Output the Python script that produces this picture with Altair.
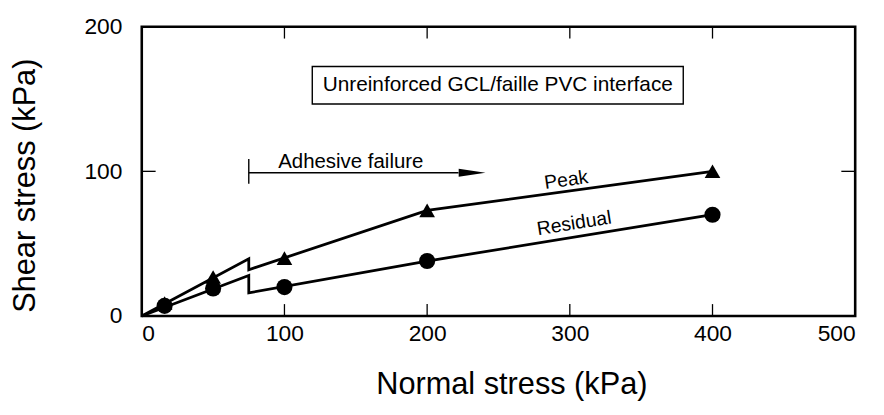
import altair as alt
import pandas as pd

# ---- data ----
normal_stress = [16, 50, 100, 200, 400]
peak_shear = [9, 27, 40, 73, 100]
residual_shear = [7, 19, 20, 38, 70]

# fitted envelopes (with the jump at the onset of adhesive failure)
peak_line_x = [0, 75, 75, 200, 400]
peak_line_y = [0, 39.5, 32, 73, 100]
resid_line_x = [0, 75, 75, 200, 400]
resid_line_y = [0, 28, 16, 38, 70]

x_ticks = [0, 100, 200, 300, 400, 500]
y_ticks = [0, 100, 200]
x_inner_ticks = [100, 200, 300, 400]
y_inner_ticks = [100]

box_text = "Unreinforced GCL/faille PVC interface"
adhesive_text = "Adhesive failure"

W, H = 720, 292
FONT = "Liberation Sans"

xs = alt.Scale(domain=[0, 500], nice=False, zero=False)
ys = alt.Scale(domain=[0, 200], nice=False, zero=False)

x_axis = alt.Axis(values=x_ticks, format="d", ticks=False, tickSize=0, domain=False,
                  grid=False, labelFontSize=23, labelPadding=7, labelColor="black",
                  labelFont=FONT, title="Normal stress (kPa)", titleFont=FONT,
                  titleFontSize=31, titleFontWeight="normal", titleColor="black",
                  titleX=373, titleY=69, titleBaseline="middle", titleAnchor="middle")
y_axis = alt.Axis(values=y_ticks, format="d", ticks=False, tickSize=0, domain=False,
                  grid=False, labelFontSize=23, labelPadding=20, labelColor="black",
                  labelFont=FONT, title="Shear stress (kPa)", titleFont=FONT,
                  titleFontSize=31, titleFontWeight="normal", titleColor="black",
                  titleX=-117, titleY=H / 2 + 14, titleAngle=270, titleBaseline="middle",
                  titleAnchor="middle")


def X(f="x"):
    return alt.X(f, type="quantitative", scale=xs, axis=x_axis)


def Y(f="y"):
    return alt.Y(f, type="quantitative", scale=ys, axis=y_axis)


lines_df = pd.DataFrame({
    "x": peak_line_x + resid_line_x,
    "y": peak_line_y + resid_line_y,
    "series": ["Peak"] * len(peak_line_x) + ["Residual"] * len(resid_line_x),
    "order": list(range(len(peak_line_x))) + list(range(len(resid_line_x))),
})
peak_df = pd.DataFrame({"x": normal_stress, "y": peak_shear})
resid_df = pd.DataFrame({"x": normal_stress, "y": residual_shear})

lines = alt.Chart(lines_df).mark_line(color="black", strokeWidth=2.8).encode(
    x=X(), y=Y(), order="order:Q", detail="series:N")

peak_pts = alt.Chart(peak_df).mark_point(shape="triangle-up", filled=True, size=250,
                                         color="black", opacity=1).encode(x=X(), y=Y())
resid_pts = alt.Chart(resid_df).mark_point(shape="circle", filled=True, size=265,
                                           color="black", opacity=1).encode(x=X(), y=Y())

# inward tick marks
xt_df = pd.DataFrame({"x": x_inner_ticks})
yt_df = pd.DataFrame({"y": y_inner_ticks})
tick_style = dict(color="black", strokeWidth=1.3)
xt_bottom = alt.Chart(xt_df).mark_rule(**tick_style).encode(
    x=X(), y=alt.value(H), y2=alt.value(H - 12))
xt_top = alt.Chart(xt_df).mark_rule(**tick_style).encode(
    x=X(), y=alt.value(0), y2=alt.value(12))
yt_left = alt.Chart(yt_df).mark_rule(**tick_style).encode(
    y=Y(), x=alt.value(0), x2=alt.value(14))
yt_right = alt.Chart(yt_df).mark_rule(**tick_style).encode(
    y=Y(), x=alt.value(W), x2=alt.value(W - 14))

# annotation box
box_df = pd.DataFrame({"x": [119.5], "x2": [379.5], "y": [146.5], "y2": [172.5],
                       "tx": [249.5], "ty": [159.5], "label": [box_text]})
box = alt.Chart(box_df).mark_rect(fill="white", stroke="black", strokeWidth=1.4).encode(
    x=X("x"), x2="x2", y=Y("y"), y2="y2")
box_label = alt.Chart(box_df).mark_text(font=FONT, fontSize=21, color="black",
                                        baseline="middle", align="center").encode(
    x=X("tx"), y=Y("ty"), text="label:N")

# adhesive failure arrow
adh_line_df = pd.DataFrame({"x": [75], "x2": [222], "y": [99]})
adh_line = alt.Chart(adh_line_df).mark_rule(color="black", strokeWidth=1.4).encode(
    x=X("x"), x2="x2", y=Y("y"))
adh_bar_df = pd.DataFrame({"x": [75], "y": [91.5], "y2": [108.5]})
adh_bar = alt.Chart(adh_bar_df).mark_rule(color="black", strokeWidth=1.4).encode(
    x=X("x"), y=Y("y"), y2="y2")
arrow_df = pd.DataFrame({"x": [231.5], "y": [99]})
arrow = alt.Chart(arrow_df).mark_point(shape="M-1,-0.3L1,0L-1,0.3Z", filled=True,
                                       size=729, color="black", opacity=1).encode(
    x=X(), y=Y())
adh_text_df = pd.DataFrame({"x": [146.5], "y": [102.5], "label": [adhesive_text]})
adh_text = alt.Chart(adh_text_df).mark_text(font=FONT, fontSize=20.6, color="black",
                                            baseline="alphabetic", align="center").encode(
    x=X(), y=Y(), text="label:N")

# series labels
peak_lab_df = pd.DataFrame({"x": [297.5], "y": [94], "label": ["Peak"]})
peak_lab = alt.Chart(peak_lab_df).mark_text(font=FONT, fontSize=19.5, color="black",
                                            angle=352, baseline="middle", align="center").encode(
    x=X(), y=Y(), text="label:N")
res_lab_df = pd.DataFrame({"x": [303], "y": [64], "label": ["Residual"]})
res_lab = alt.Chart(res_lab_df).mark_text(font=FONT, fontSize=19.5, color="black",
                                          angle=351, baseline="middle", align="center").encode(
    x=X(), y=Y(), text="label:N")

chart = alt.layer(
    lines, peak_pts, resid_pts, xt_bottom, xt_top, yt_left, yt_right,
    box, box_label, adh_line, adh_bar, arrow, adh_text, peak_lab, res_lab,
).properties(
    width=W, height=H,
    background="white",
    autosize=alt.AutoSizeParams(type="none"),
    padding={"left": 135, "top": 17, "right": 21, "bottom": 90},
).configure_view(
    stroke="black", strokeWidth=2.6
)

chart.save("out.html", embed_options={"renderer": "svg", "actions": False})
